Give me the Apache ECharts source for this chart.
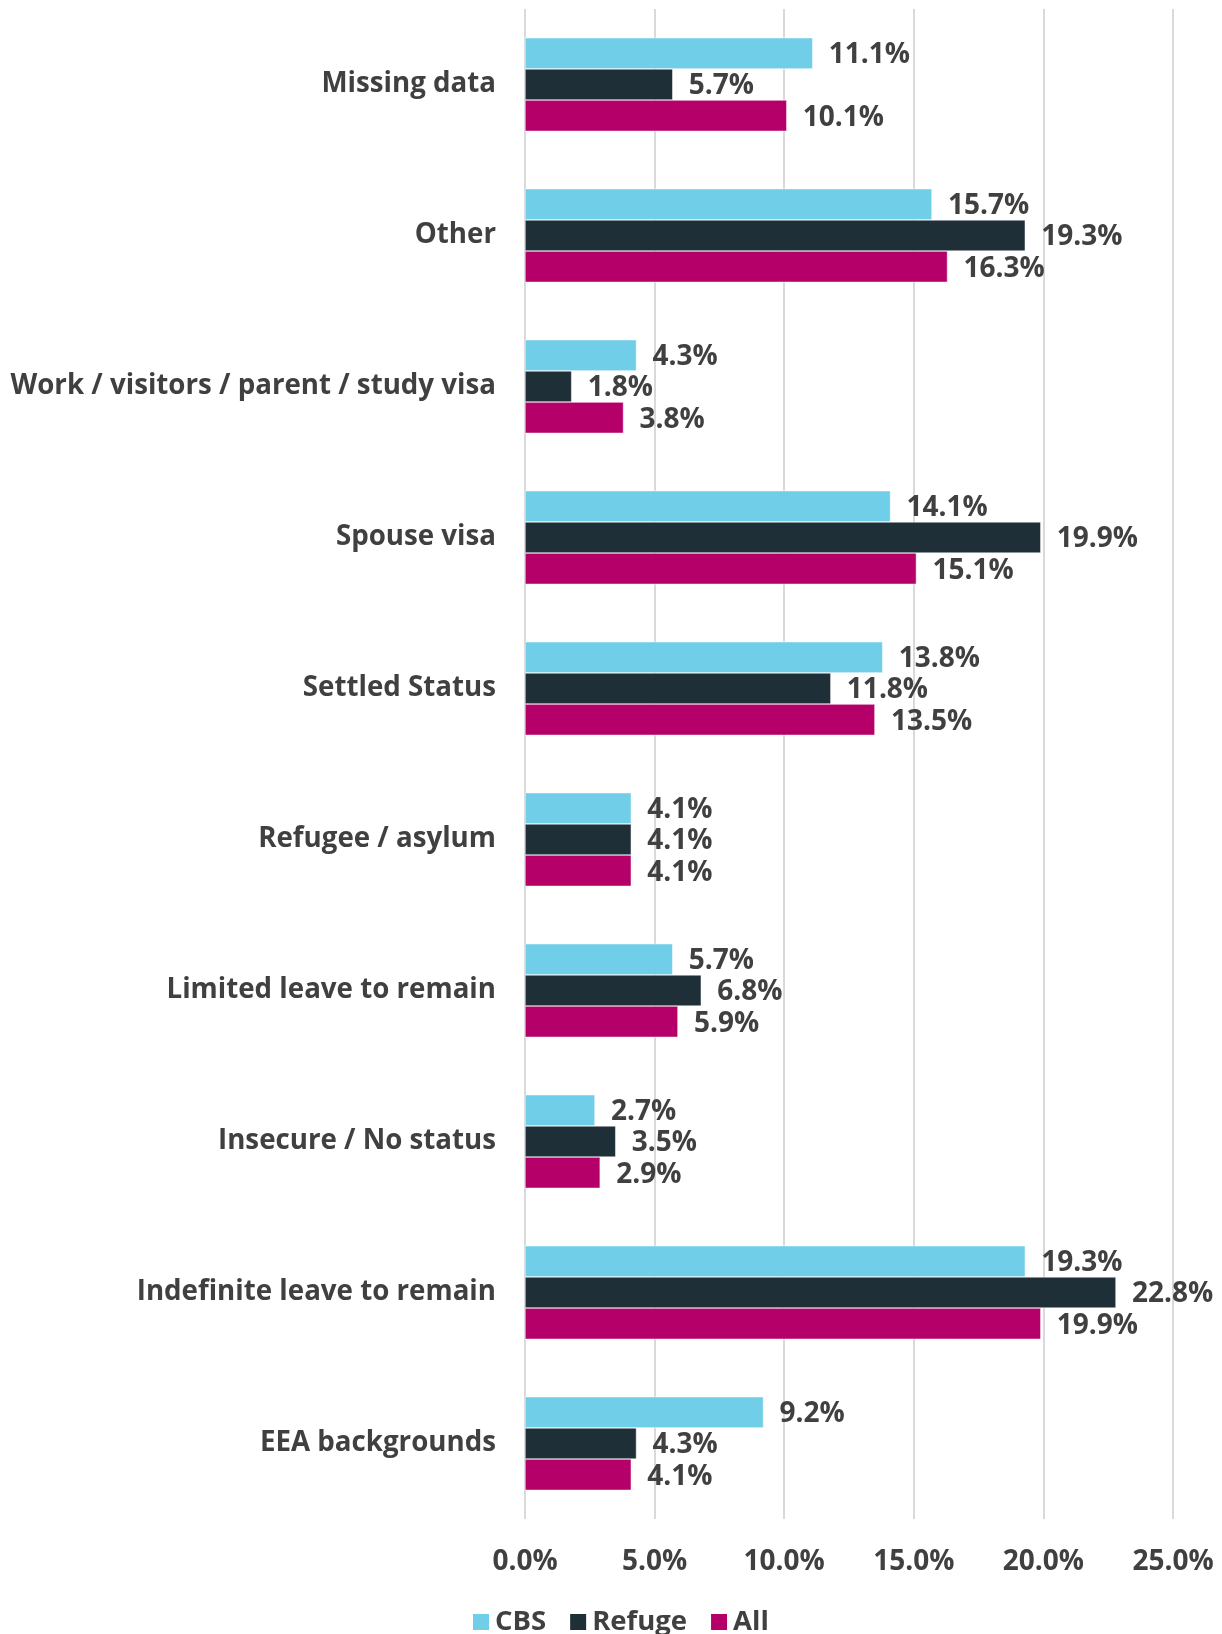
<!DOCTYPE html>
<html>
<head>
<meta charset="utf-8">
<script src="https://cdn.jsdelivr.net/npm/echarts@6/dist/echarts.min.js"></script>
<style>
  html, body { margin: 0; padding: 0; background: #fff; }
  #chart { width: 1222px; height: 1634px; }
</style>
</head>
<body>
<div id="chart"></div>
<script>
// categories, top to bottom
var categories = [
  'Missing data',
  'Other',
  'Work / visitors / parent / study visa',
  'Spouse visa',
  'Settled Status',
  'Refugee / asylum',
  'Limited leave to remain',
  'Insecure / No status',
  'Indefinite leave to remain',
  'EEA backgrounds'
];
var cbsValues    = [11.1, 15.7, 4.3, 14.1, 13.8, 4.1, 5.7, 2.7, 19.3, 9.2];
var refugeValues = [5.7, 19.3, 1.8, 19.9, 11.8, 4.1, 6.8, 3.5, 22.8, 4.3];
var allValues    = [10.1, 16.3, 3.8, 15.1, 13.5, 4.1, 5.9, 2.9, 19.9, 4.1];
var seriesNames  = ['CBS', 'Refuge', 'All'];
var seriesColors = ['#70CEE8', '#1E2F38', '#B5006A'];

var textColor = '#404040';
var fontFamily = '"Open Sans", sans-serif';

var chart = echarts.init(document.getElementById('chart'));

function makeSeries(name, data, color) {
  return {
    name: name,
    type: 'bar',
    data: data,
    barGap: '0%',
    barCategoryGap: '38%',
    itemStyle: { color: color, borderColor: '#ffffff', borderWidth: 0.5 },
    label: {
      show: true,
      position: 'right',
      distance: 16,
      offset: [0, 2],
      color: textColor,
      fontFamily: fontFamily,
      fontWeight: 'bold',
      fontSize: 28,
      formatter: function (p) { return p.value.toFixed(1) + '%'; }
    }
  };
}

var option = {
  animation: false,
  textStyle: { fontFamily: fontFamily },
  grid: { left: 525, right: 49, top: 9, bottom: 115, containLabel: false },
  legend: {
    data: seriesNames,
    left: 466,
    top: 1603,
    itemWidth: 18,
    itemHeight: 18,
    itemGap: 22,
    icon: 'rect',
    textStyle: { color: textColor, fontFamily: fontFamily, fontWeight: 'bold', fontSize: 27.5 }
  },
  xAxis: {
    type: 'value',
    min: 0,
    max: 25,
    interval: 5,
    axisLine: { show: false },
    axisTick: { show: false },
    splitLine: { lineStyle: { color: '#d9d9d9', width: 2 } },
    axisLabel: {
      margin: 29,
      color: textColor,
      fontFamily: fontFamily,
      fontWeight: 'bold',
      fontSize: 28,
      formatter: function (v) { return v.toFixed(1) + '%'; }
    }
  },
  yAxis: {
    type: 'category',
    data: categories,
    inverse: true,
    axisLine: { show: false },
    axisTick: { show: false },
    axisLabel: {
      margin: 29,
      color: textColor,
      fontFamily: fontFamily,
      fontWeight: 'bold',
      fontSize: 27.7
    }
  },
  series: [
    makeSeries(seriesNames[0], cbsValues, seriesColors[0]),
    makeSeries(seriesNames[1], refugeValues, seriesColors[1]),
    makeSeries(seriesNames[2], allValues, seriesColors[2])
  ]
};

chart.setOption(option);
</script>
</body>
</html>
